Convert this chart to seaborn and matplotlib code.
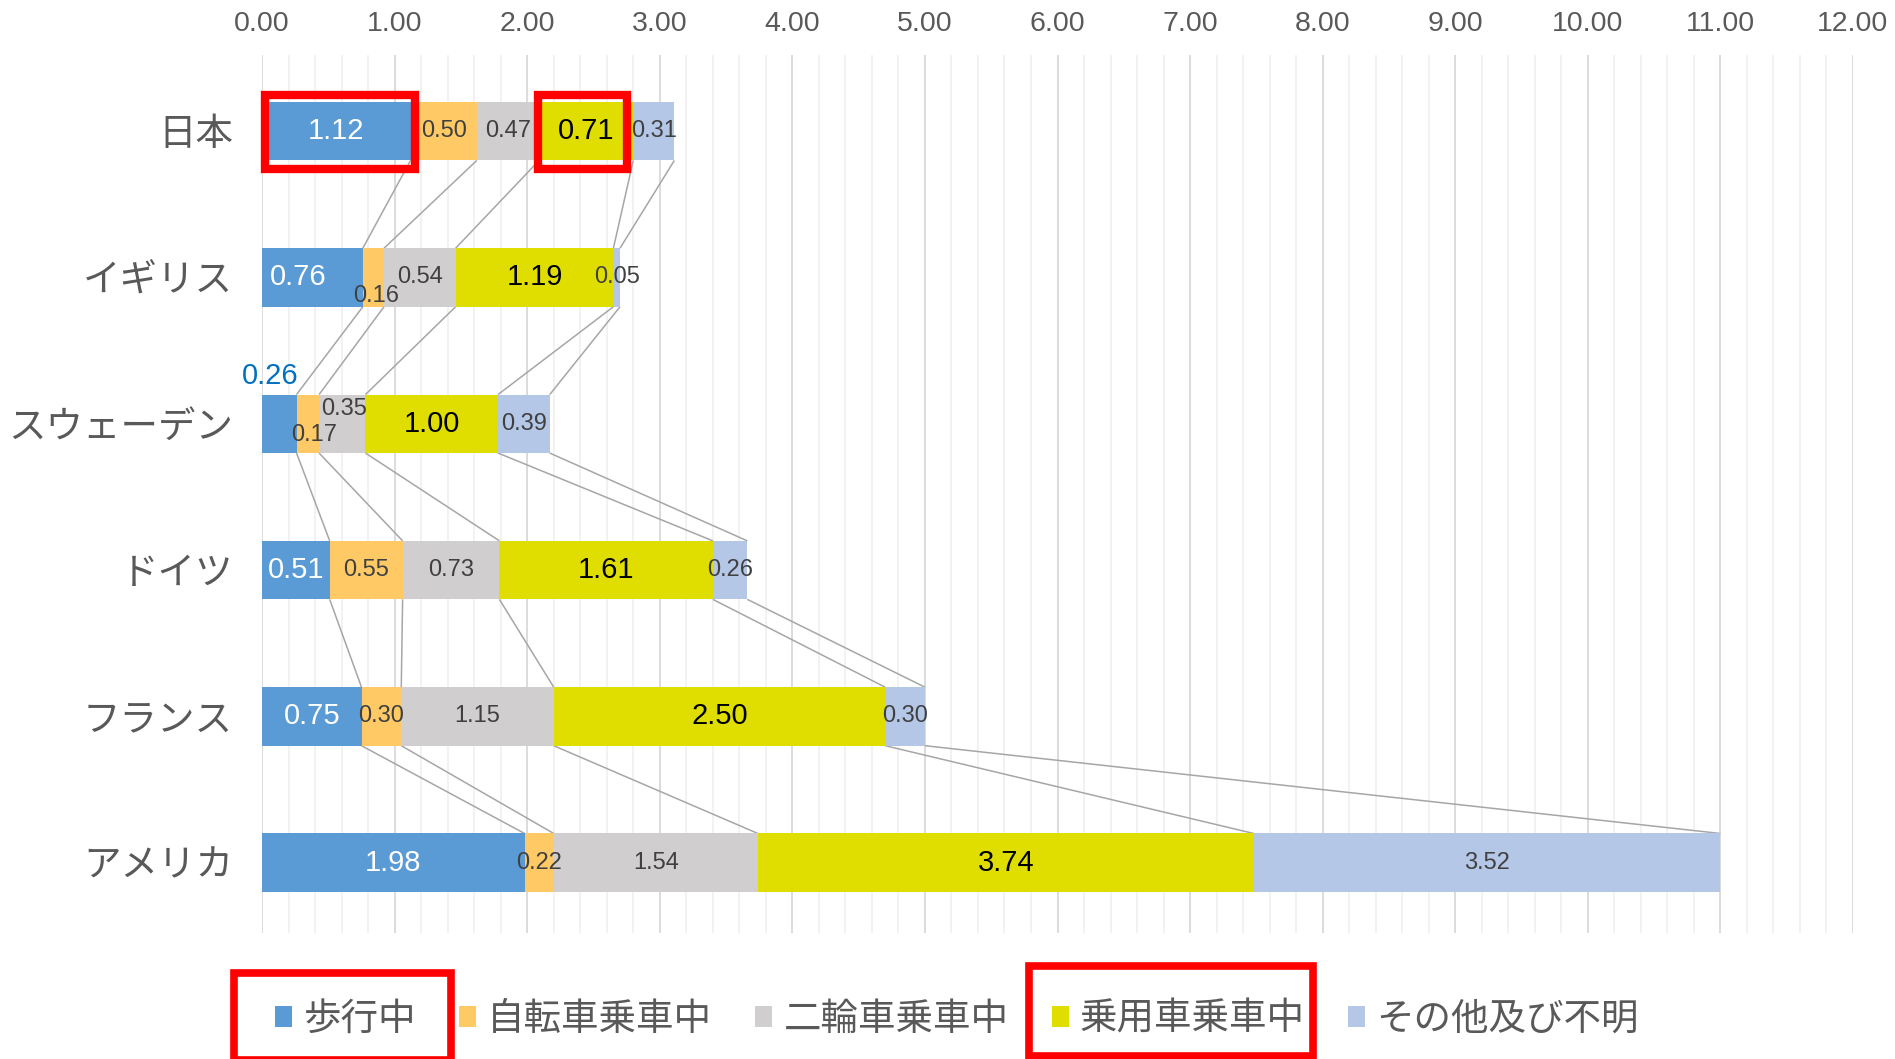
import numpy as np
import pandas as pd
import matplotlib
matplotlib.use("Agg")
import matplotlib.pyplot as plt
import seaborn as sns
from matplotlib.patches import Patch, Rectangle
from matplotlib.ticker import MultipleLocator, FormatStrFormatter

# ---------------- data ----------------
countries = ["日本", "イギリス", "スウェーデン", "ドイツ", "フランス", "アメリカ"]
series_names = ["歩行中", "自転車乗車中", "二輪車乗車中", "乗用車乗車中", "その他及び不明"]
walking = [1.12, 0.76, 0.26, 0.51, 0.75, 1.98]
bicycle = [0.50, 0.16, 0.17, 0.55, 0.30, 0.22]
motorcycle = [0.47, 0.54, 0.35, 0.73, 1.15, 1.54]
car = [0.71, 1.19, 1.00, 1.61, 2.50, 3.74]
other = [0.31, 0.05, 0.39, 0.26, 0.30, 3.52]
x_max = 12

# ---------------- style ----------------
colors = ["#5B9BD5", "#FFCA66", "#D0CECE", "#E0DE00", "#B4C7E7"]
label_colors = ["#FFFFFF", "#404040", "#404040", "#000000", "#404040"]
label_sizes = [21, 17, 17, 21, 17]
# (series, country) -> (dx, dy, color) adjustments of data labels
label_adjust = {
    (0, 1): (-0.11, 0.0, None),
    (1, 1): (0.02, 0.13, None),
    (0, 2): (-0.07, -0.325, "#0070C0"),
    (1, 2): (0.045, 0.08, None),
    (2, 2): (0.015, -0.10, None),
}
BAR_W = 0.40
TEXT_GRAY = "#595959"

sns.set_theme(style="white")
plt.rcParams["font.family"] = ["Liberation Sans", "Noto Sans CJK JP", "DejaVu Sans"]

fig = plt.figure(figsize=(18.95, 10.59), dpi=100)
ax = fig.add_axes([0.1383, 0.119, 0.9778 - 0.1383, 0.948 - 0.119])

values = np.array([walking, bicycle, motorcycle, car, other])
cum = np.cumsum(values, axis=0)
starts = cum - values

# stacked bars via overlaid cumulative seaborn bars (largest first)
for k in range(len(series_names) - 1, -1, -1):
    df = pd.DataFrame({"country": countries, "value": cum[k]})
    sns.barplot(data=df, x="value", y="country", order=countries, orient="h",
                color=colors[k], saturation=1, width=BAR_W, errorbar=None,
                linewidth=0, ax=ax, zorder=2)

# series lines
n = len(countries)
for k in range(len(series_names)):
    for i in range(n - 1):
        ax.plot([cum[k, i], cum[k, i + 1]], [i + BAR_W / 2, i + 1 - BAR_W / 2],
                color="#A6A6A6", lw=1.1, zorder=1.5, solid_capstyle="butt")

# data labels
for k in range(len(series_names)):
    for i in range(n):
        dx, dy, col = label_adjust.get((k, i), (0.0, 0.0, None))
        ax.text(starts[k, i] + values[k, i] / 2 + dx, i + dy, f"{values[k, i]:.2f}",
                ha="center", va="center", fontsize=label_sizes[k],
                color=col or label_colors[k], family="Liberation Sans", zorder=5)

# axes styling
ax.set_xlim(0, x_max)
ax.set_ylim(n - 0.52, -0.52)
ax.set_xlabel("")
ax.set_ylabel("")
ax.xaxis.tick_top()
ax.xaxis.set_major_locator(MultipleLocator(1))
ax.xaxis.set_minor_locator(MultipleLocator(0.2))
ax.xaxis.set_major_formatter(FormatStrFormatter("%.2f"))
ax.tick_params(axis="x", which="both", length=0, labelsize=20.5, labelcolor=TEXT_GRAY, pad=13)
ax.tick_params(axis="y", length=0, labelsize=27, labelcolor=TEXT_GRAY, pad=21)
ax.set_axisbelow(True)
ax.grid(False)
ax.grid(which="major", axis="x", color="#D9D9D9", lw=1.3)
ax.grid(which="minor", axis="x", color="#EFEFEF", lw=1.1)
for s in ax.spines.values():
    s.set_visible(False)

# highlight boxes on Japan's walking and car segments
for k, (pl, pr) in [(0, (0.02, 0.035)), (3, (-0.012, -0.045))]:
    x0 = starts[k, 0] + pl
    x1 = cum[k, 0] + pr
    ax.add_patch(Rectangle((x0, -0.25), x1 - x0, 0.51, fill=False, edgecolor="#FF0000",
                           lw=6, zorder=6, clip_on=False, joinstyle="miter"))

# legend
handles = [Patch(facecolor=c, edgecolor="none") for c in colors]
leg = fig.legend(handles, series_names, loc="center", bbox_to_anchor=(0.505, 0.037),
                 ncol=5, frameon=False, fontsize=27, handlelength=0.45, handleheight=0.45,
                 handletextpad=0.3, columnspacing=1.15, labelcolor=TEXT_GRAY)

fig.canvas.draw()
renderer = fig.canvas.get_renderer()
inv = fig.transFigure.inverted()
# (entry, left pad, right pad, top above center, bottom below center) in pixels
for idx, lp, rp, tp, bp in [(0, 41, 35, 47, 40), (3, 23, 8, 54, 36)]:
    hb = leg.legend_handles[idx].get_window_extent(renderer)
    tb = leg.get_texts()[idx].get_window_extent(renderer)
    cy = (tb.y0 + tb.y1) / 2
    x0, x1 = hb.x0 - lp, tb.x1 + rp
    y0, y1 = cy - bp, cy + tp
    (fx0, fy0) = inv.transform((x0, y0))
    (fx1, fy1) = inv.transform((x1, y1))
    fig.add_artist(Rectangle((fx0, fy0), fx1 - fx0, fy1 - fy0, transform=fig.transFigure,
                             fill=False, edgecolor="#FF0000", lw=5.5, joinstyle="miter"))

fig.savefig("out.png", dpi=100)
